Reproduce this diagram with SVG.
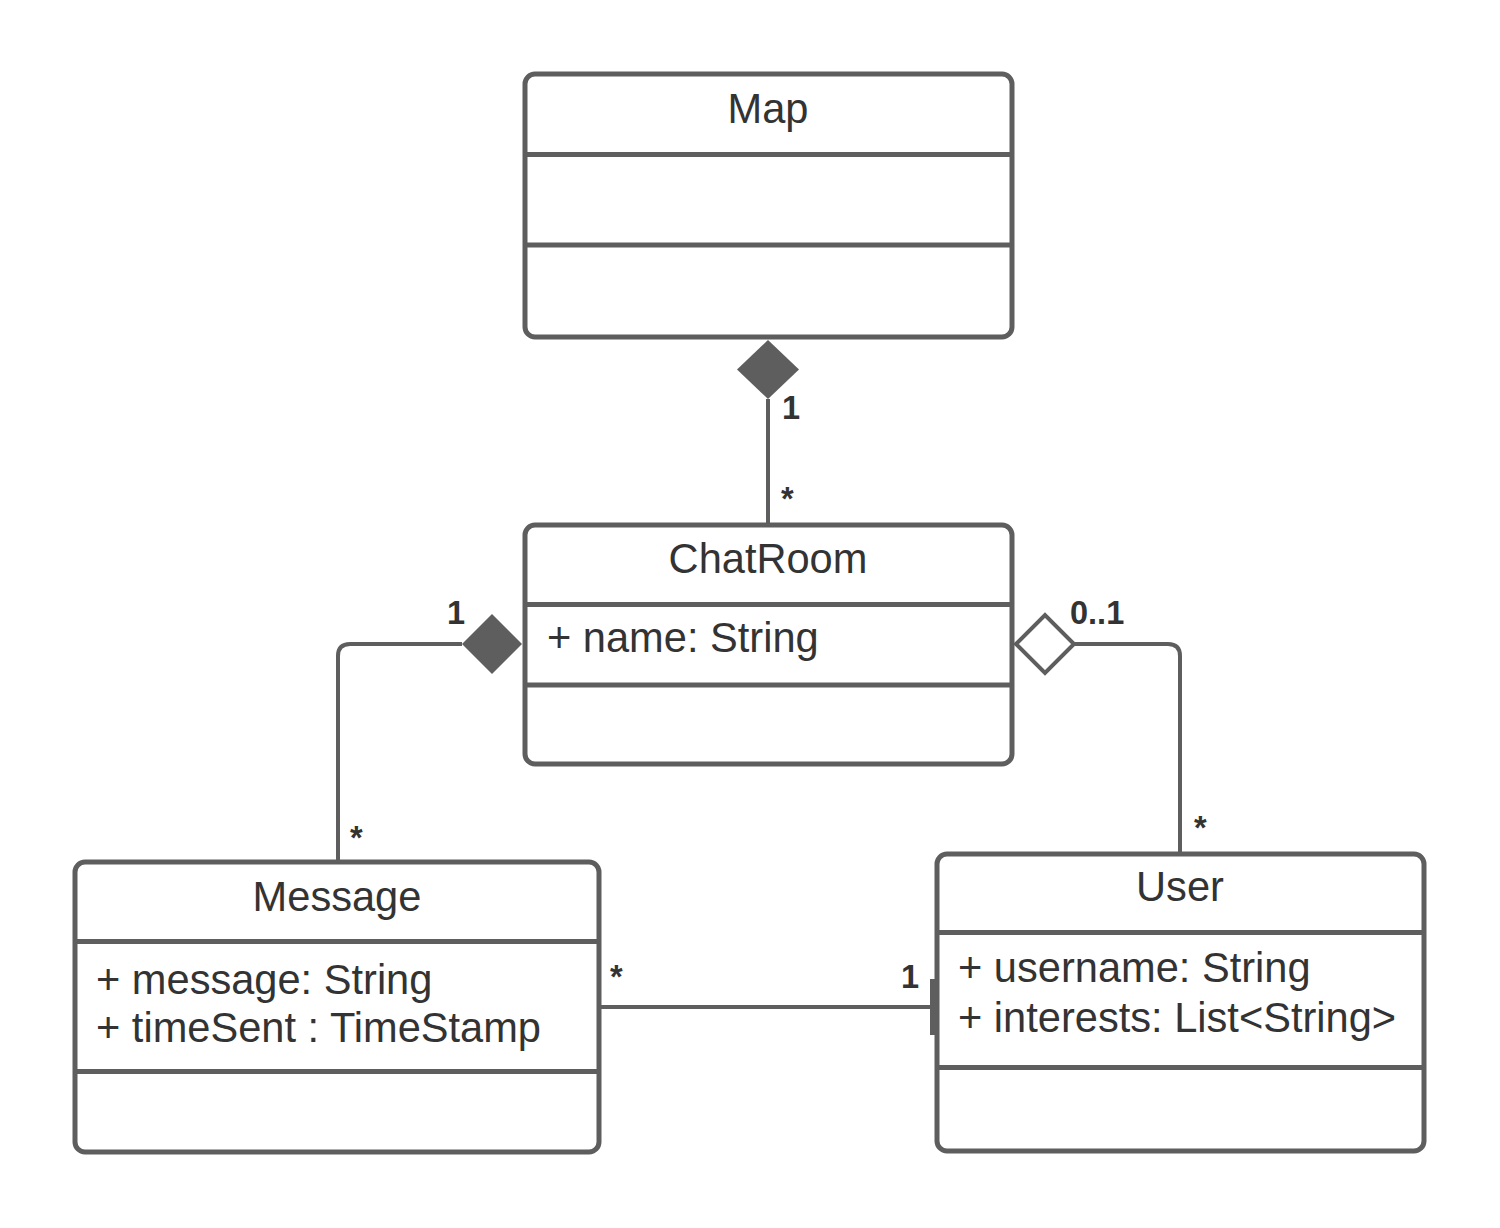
<svg xmlns="http://www.w3.org/2000/svg" width="1500" height="1228" viewBox="0 0 1500 1228">
<style>
.box{fill:#ffffff;stroke:#5e5e5e;stroke-width:5}
.div{stroke:#5e5e5e;stroke-width:5}
.t{font-family:"Liberation Sans",Arial,sans-serif;font-size:41.6px;fill:#333333}
.c{text-anchor:middle}
.conn{fill:none;stroke:#5e5e5e;stroke-width:4}
.lbl{font-family:"Liberation Sans",Arial,sans-serif;font-size:32.5px;font-weight:bold;fill:#333333}
</style>
<rect width="1500" height="1228" fill="#ffffff"/>
<g id="connectors">
<line class="conn" x1="768" y1="399" x2="768" y2="525"/>
<polygon points="768,340 799,369.5 768,399 737,369.5" fill="#5e5e5e"/>
<path class="conn" d="M462,644 H350 Q338,644 338,656 V862"/>
<polygon points="522,644 492,614 462,644 492,674" fill="#5e5e5e"/>
<path class="conn" d="M1074,644 H1168 Q1180,644 1180,656 V853"/>
<polygon points="1016,644 1045,615 1074,644 1045,673" fill="#ffffff" stroke="#5e5e5e" stroke-width="4"/>
<line class="conn" x1="599" y1="1007" x2="933" y2="1007"/>
<rect x="930" y="979" width="5" height="56" fill="#5e5e5e"/>
<text class="lbl" x="782" y="419">1</text>
<text class="lbl" x="781" y="510">*</text>
<text class="lbl" x="447" y="624">1</text>
<text class="lbl" x="1070" y="624">0..1</text>
<text class="lbl" x="350" y="849">*</text>
<text class="lbl" x="1194" y="839">*</text>
<text class="lbl" x="610" y="988">*</text>
<text class="lbl" x="901" y="988">1</text>
</g>
<g id="map">
<rect class="box" x="525" y="74" width="487" height="263" rx="10"/>
<line class="div" x1="525" y1="154.5" x2="1012" y2="154.5"/>
<line class="div" x1="525" y1="245" x2="1012" y2="245"/>
<text class="t c" x="768" y="123">Map</text>
</g>
<g id="chatroom">
<rect class="box" x="525" y="525" width="487" height="239" rx="10"/>
<line class="div" x1="525" y1="604.5" x2="1012" y2="604.5"/>
<line class="div" x1="525" y1="685" x2="1012" y2="685"/>
<text class="t c" x="768" y="573">ChatRoom</text>
<text class="t" x="547" y="652">+ name: String</text>
</g>
<g id="message">
<rect class="box" x="75" y="862" width="524" height="290" rx="10"/>
<line class="div" x1="75" y1="941.5" x2="599" y2="941.5"/>
<line class="div" x1="75" y1="1071.5" x2="599" y2="1071.5"/>
<text class="t c" x="337" y="911">Message</text>
<text class="t" x="96" y="994">+ message: String</text>
<text class="t" x="96" y="1042">+ timeSent : TimeStamp</text>
</g>
<g id="user">
<rect class="box" x="937" y="854" width="487" height="297" rx="10"/>
<line class="div" x1="937" y1="932.5" x2="1424" y2="932.5"/>
<line class="div" x1="937" y1="1067.5" x2="1424" y2="1067.5"/>
<text class="t c" x="1180" y="901">User</text>
<text class="t" x="958" y="982">+ username: String</text>
<text class="t" x="958" y="1032">+ interests: List&lt;String&gt;</text>
</g>
</svg>
